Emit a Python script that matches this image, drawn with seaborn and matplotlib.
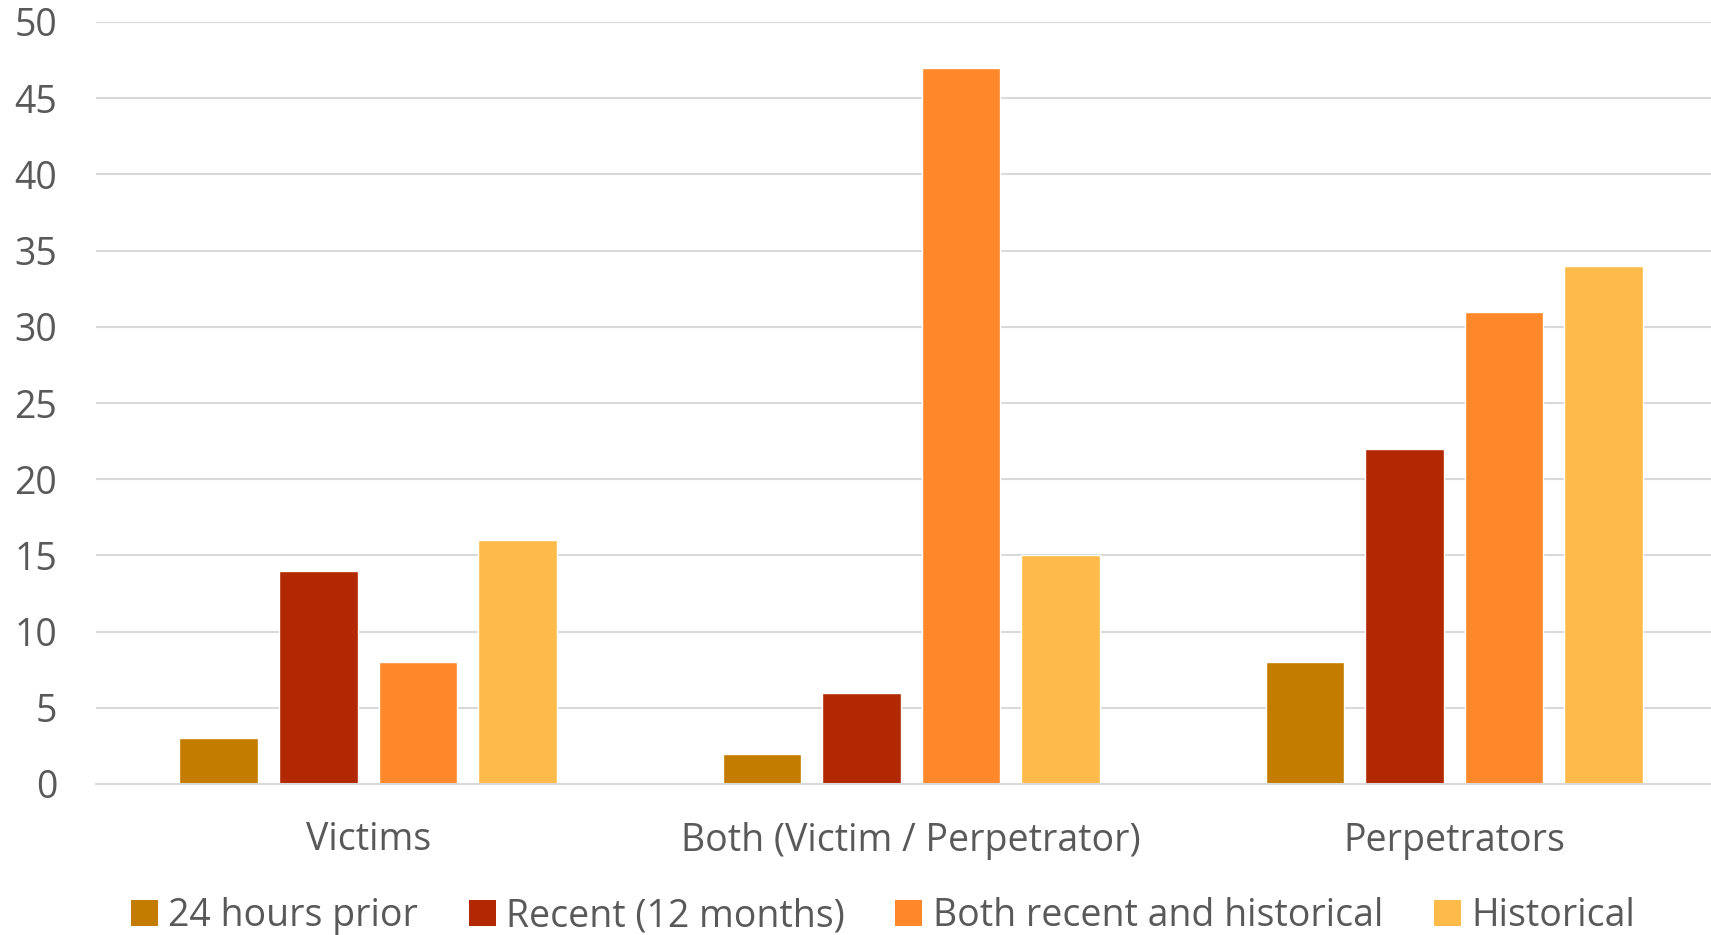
import matplotlib
matplotlib.use("Agg")
import matplotlib.pyplot as plt
import seaborn as sns
import pandas as pd
from matplotlib.patches import Patch

categories = ["Victims", "Both (Victim / Perpetrator)", "Perpetrators"]
series = ["24 hours prior", "Recent (12 months)", "Both recent and historical", "Historical"]
values = {
    "24 hours prior": [3, 2, 8],
    "Recent (12 months)": [14, 6, 22],
    "Both recent and historical": [8, 47, 31],
    "Historical": [16, 15, 34],
}
colors = ["#C47C00", "#B22800", "#FF882A", "#FFBB4A"]
yticks = [0, 5, 10, 15, 20, 25, 30, 35, 40, 45, 50]

rows = []
for s in series:
    for c, v in zip(categories, values[s]):
        rows.append({"category": c, "series": s, "value": v})
df = pd.DataFrame(rows)

sns.set_theme(style="white")
plt.rcParams["font.family"] = ["Open Sans", "DejaVu Sans"]
text_color = "#595959"

fig = plt.figure(figsize=(17.11, 9.35), dpi=100)
ax = fig.add_axes([96 / 1711, 1 - 784 / 935, 1 - 96 / 1711, (784 - 22) / 935])

sns.barplot(data=df, x="category", y="value", hue="series", hue_order=series,
            order=categories, palette=colors, width=0.733, gap=0.21,
            saturation=1, ax=ax, legend=False)

ax.set_xlim(-0.501, 2.473)
ax.set_ylim(0, 50)
ax.set_yticks(yticks)
ax.set_yticklabels([str(t) for t in yticks])
ax.grid(axis="y", color="#D9D9D9", linewidth=1.5)
ax.set_axisbelow(True)
for sp in ["top", "right", "left"]:
    ax.spines[sp].set_visible(False)
ax.spines["bottom"].set_color("#D9D9D9")
ax.spines["bottom"].set_linewidth(1.5)
ax.set_xlabel("")
ax.set_ylabel("")
ax.tick_params(axis="y", length=0, labelsize=27, labelcolor=text_color, pad=28)
ax.tick_params(axis="x", length=0, labelsize=27, labelcolor=text_color, pad=27)

handles = [Patch(facecolor=c, edgecolor="none") for c in colors]
fig.legend(handles, series, loc="center", bbox_to_anchor=(0.516, 1 - 916 / 935),
           ncol=4, frameon=False, fontsize=27, labelcolor=text_color,
           handlelength=0.72, handleheight=0.72, handletextpad=0.28, columnspacing=1.35)

fig.savefig("out.png", dpi=100)
